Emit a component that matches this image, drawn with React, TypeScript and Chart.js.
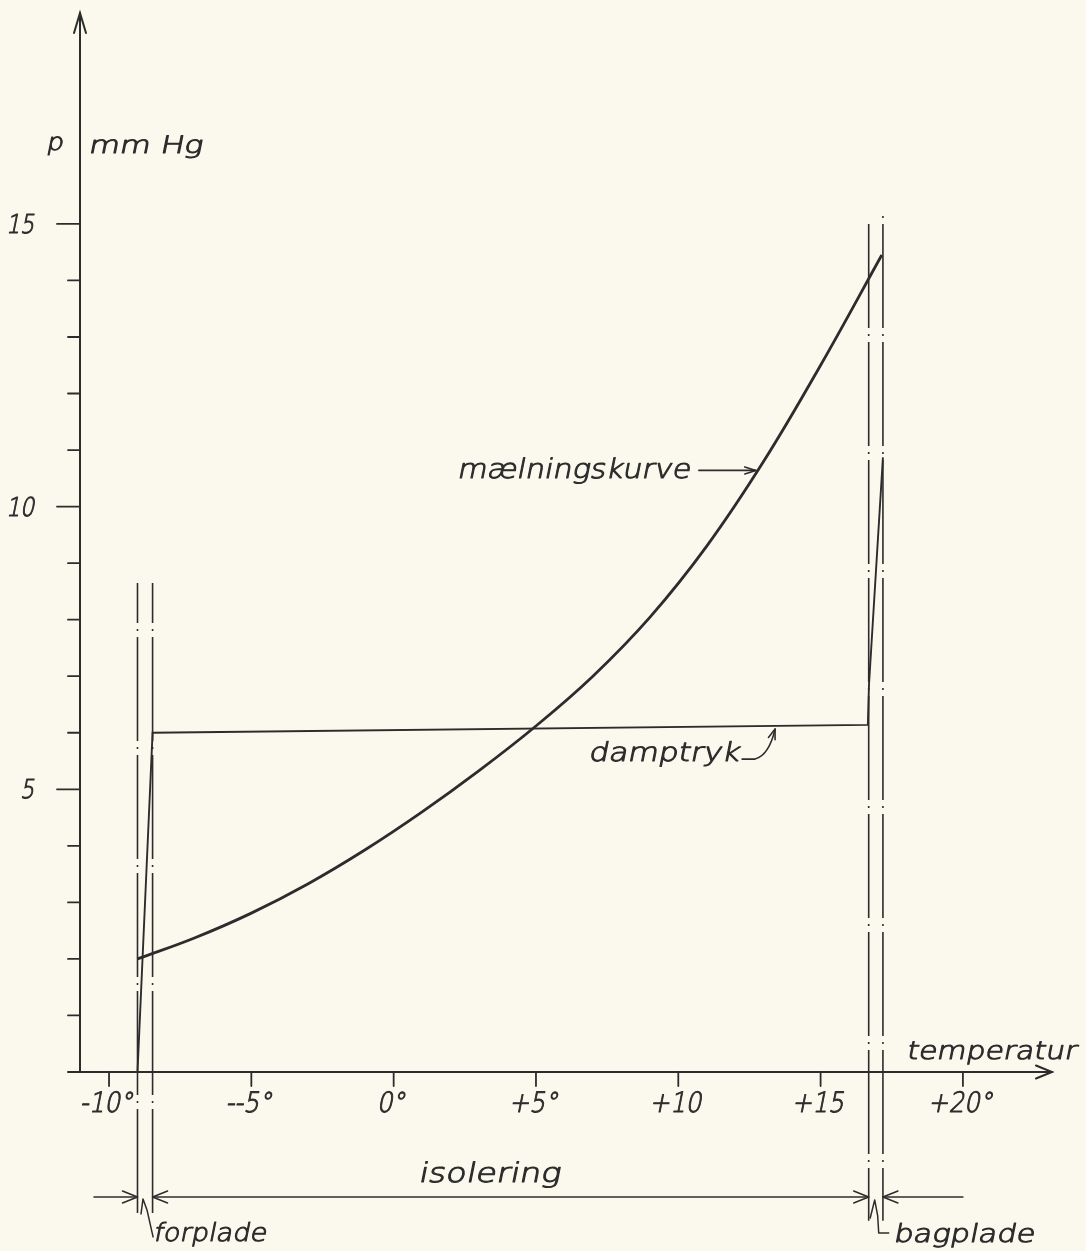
import { useEffect, useRef } from "react";
import { Chart, registerables } from "chart.js";

Chart.register(...registerables);

// ---- data ----
const xTickValues = [-10, -5, 0, 5, 10, 15, 20];
const xTickLabels = ["-10°", "--5°", "0°", "+5°", "+10", "+15", "+20°"];
const yMajorTicks = [5, 10, 15];
const yMajorLabels = ["5", "10", "15"];
const yMinorTicks = [1, 2, 3, 4, 6, 7, 8, 9, 11, 12, 13, 14];

// mælningskurve (saturation pressure, mm Hg) vs temperature (°C)
const curveTemps = [-9, -7, -5, -3, -1, 1, 3, 5, 7, 9, 11, 13, 15, 17.15];
const curvePressure = [2.0, 2.37, 2.81, 3.33, 3.93, 4.6, 5.33, 6.12, 7.0, 8.04, 9.3, 10.8, 12.5, 14.45];

// damptryk (vapour pressure) through the wall
const vaporTemps = [-9, -8.47, 16.66, 16.7, 17.19];
const vaporPressure = [0, 6.0, 6.14, 6.85, 10.87];

// plate boundaries (forplade / isolering / bagplade)
const plateBounds = [-9, -8.47, 16.69, 17.19];
const plateTop = [8.65, 8.65, 15.04, 15.2];
const plateBottom = [-2.55, -2.55, -2.63, -2.63];

const X_MIN = -11.02;
const X_MAX = 23.13;
const Y_MIN = 0;
const Y_MAX = 18.73;

const INK = "#2c2c2c";
const PAPER = "#fbf9ee";

function drawText(
  ctx: CanvasRenderingContext2D,
  text: string,
  x: number,
  y: number,
  size: number,
  align: "left" | "center" | "right",
  width?: number,
  sx = 1
) {
  ctx.save();
  ctx.font = `200 ${size}px 'DejaVu Sans', 'Liberation Sans', sans-serif`;
  const m = ctx.measureText(text).width;
  const s = width ? width / m : sx;
  const w = m * s;
  const x0 = align === "center" ? x - w / 2 : align === "right" ? x - w : x;
  ctx.translate(x0, y);
  ctx.transform(s, 0, -0.2, 1, 0, 0);
  ctx.fillStyle = INK;
  ctx.strokeStyle = INK;
  ctx.lineWidth = 1.0;
  ctx.lineJoin = "round";
  ctx.textAlign = "left";
  ctx.textBaseline = "alphabetic";
  ctx.fillText(text, 0, 0);
  ctx.strokeText(text, 0, 0);
  ctx.restore();
}

function arrowHead(ctx: CanvasRenderingContext2D, x: number, y: number, dx: number, dy: number, len = 15, half = 6) {
  const L = Math.hypot(dx, dy);
  const ux = dx / L, uy = dy / L;
  const bx = x - ux * len, by = y - uy * len;
  ctx.beginPath();
  ctx.moveTo(bx - uy * half, by + ux * half);
  ctx.lineTo(x, y);
  ctx.lineTo(bx + uy * half, by - ux * half);
  ctx.stroke();
}

const drawingPlugin = {
  id: "drawing",
  beforeDraw(chart: any) {
    const ctx = chart.ctx as CanvasRenderingContext2D;
    ctx.save();
    ctx.fillStyle = PAPER;
    ctx.fillRect(0, 0, chart.width, chart.height);
    ctx.restore();
  },
  beforeDatasetsDraw(chart: any) {
    const ctx = chart.ctx as CanvasRenderingContext2D;
    const xs = chart.scales.x;
    const ys = chart.scales.y;
    const area = chart.chartArea;
    const y0 = ys.getPixelForValue(0);
    ctx.save();
    ctx.strokeStyle = INK;
    ctx.lineCap = "round";

    // y axis
    ctx.lineWidth = 2;
    ctx.beginPath();
    ctx.moveTo(area.left, y0);
    ctx.lineTo(area.left, area.top);
    ctx.stroke();
    arrowHead(ctx, area.left, area.top, 0, -1, 20, 6);

    // x axis
    ctx.beginPath();
    ctx.moveTo(area.left - 12, y0);
    ctx.lineTo(area.right, y0);
    ctx.stroke();
    arrowHead(ctx, area.right, y0, 1, 0, 16, 6.5);

    // y ticks
    ctx.lineWidth = 1.8;
    yMinorTicks.forEach((v) => {
      const p = ys.getPixelForValue(v);
      ctx.beginPath();
      ctx.moveTo(area.left - 12, p);
      ctx.lineTo(area.left, p);
      ctx.stroke();
    });
    yMajorTicks.forEach((v) => {
      const p = ys.getPixelForValue(v);
      ctx.beginPath();
      ctx.moveTo(area.left - 23, p);
      ctx.lineTo(area.left, p);
      ctx.stroke();
    });
    // x ticks
    xTickValues.forEach((v) => {
      const p = xs.getPixelForValue(v);
      ctx.beginPath();
      ctx.moveTo(p, y0);
      ctx.lineTo(p, y0 + 14);
      ctx.stroke();
    });

    // plate boundary dash-dot lines
    ctx.lineCap = "butt";
    ctx.lineWidth = 1.6;
    const period = 118;
    const gapRef = [623, 623, 328, 328];
    plateBounds.forEach((b, i) => {
      const px = xs.getPixelForValue(b);
      const top = ys.getPixelForValue(plateTop[i]);
      const bot = ys.getPixelForValue(plateBottom[i]);
      ctx.setLineDash([104, 6, 2, 6]);
      ctx.lineDashOffset = (((top - gapRef[i] + 104) % period) + period) % period;
      ctx.beginPath();
      ctx.moveTo(px, top);
      ctx.lineTo(px, bot);
      ctx.stroke();
    });
    ctx.setLineDash([]);
    ctx.restore();
  },
  afterDraw(chart: any) {
    const ctx = chart.ctx as CanvasRenderingContext2D;
    const xs = chart.scales.x;
    const ys = chart.scales.y;
    const y0 = ys.getPixelForValue(0);
    ctx.save();
    ctx.strokeStyle = INK;
    ctx.lineWidth = 1.6;
    ctx.lineCap = "round";
    ctx.lineJoin = "round";

    // y tick labels
    yMajorTicks.forEach((v, i) => {
      const p = ys.getPixelForValue(v);
      drawText(ctx, yMajorLabels[i], 34, p + 9, 26, "right", undefined, 0.85);
    });
    // x tick labels
    xTickValues.forEach((v, i) => {
      const p = xs.getPixelForValue(v);
      drawText(ctx, xTickLabels[i], p - 3, y0 + 40, 28, "center", undefined, 0.88);
    });

    // axis titles
    drawText(ctx, "p", 46, 150, 24, "left", undefined, 1.1);
    drawText(ctx, "mm Hg", 88, 153, 24, "left", 114);
    drawText(ctx, "temperatur", 906, 1059, 25, "left", 170);

    // mælningskurve label + arrow
    const tx = xs.getPixelForValue(12.76);
    const ty = ys.getPixelForValue(10.64);
    ctx.beginPath();
    ctx.moveTo(tx - 58, ty);
    ctx.lineTo(tx - 1, ty);
    ctx.stroke();
    arrowHead(ctx, tx - 1, ty, 1, 0, 11, 3.5);
    drawText(ctx, "mælningskurve", tx - 67, ty + 8, 27, "right", 233);

    // damptryk label + hook arrow
    const dx = xs.getPixelForValue(13.4);
    const dy = ys.getPixelForValue(6.1) + 2;
    ctx.beginPath();
    ctx.moveTo(dx - 33, dy + 30);
    ctx.lineTo(dx - 20, dy + 30);
    ctx.quadraticCurveTo(dx - 6, dy + 26, dx, dy);
    ctx.stroke();
    arrowHead(ctx, dx, dy, 0.35, -1, 10, 3.5);
    drawText(ctx, "damptryk", dx - 36, dy + 32, 26, "right", 151);

    // dimension line
    const dimY = ys.getPixelForValue(-2.21);
    const xa = xs.getPixelForValue(plateBounds[0]);
    const xb = xs.getPixelForValue(plateBounds[1]);
    const xc = xs.getPixelForValue(plateBounds[2]);
    const xd = xs.getPixelForValue(plateBounds[3]);
    const xl = xs.getPixelForValue(-10.53);
    const xr = xs.getPixelForValue(20);
    ctx.lineWidth = 1.5;
    ctx.beginPath();
    ctx.moveTo(xl, dimY);
    ctx.lineTo(xa, dimY);
    ctx.moveTo(xb, dimY);
    ctx.lineTo(xc, dimY);
    ctx.moveTo(xd, dimY);
    ctx.lineTo(xr, dimY);
    ctx.stroke();
    arrowHead(ctx, xa, dimY, 1, 0, 15, 6);
    arrowHead(ctx, xb, dimY, -1, 0, 15, 6);
    arrowHead(ctx, xc, dimY, 1, 0, 15, 6);
    arrowHead(ctx, xd, dimY, -1, 0, 15, 6);
    drawText(ctx, "isolering", 418, 1182, 27, "left", 142);

    // forplade pointer
    ctx.beginPath();
    ctx.moveTo(xa + 3.5, dimY + 17);
    ctx.lineTo(xa + 5.5, dimY + 2);
    ctx.lineTo(xa + 9.5, dimY + 13);
    ctx.lineTo(xb + 0.5, dimY + 40);
    ctx.stroke();
    drawText(ctx, "forplade", 153, 1241, 25, "left", 113);

    // bagplade pointer
    ctx.beginPath();
    ctx.moveTo(xc + 1.5, dimY + 21);
    ctx.lineTo(xc + 6, dimY + 3);
    ctx.lineTo(xc + 9, dimY + 19);
    ctx.lineTo(xc + 10, dimY + 36);
    ctx.lineTo(xc + 20, dimY + 36);
    ctx.stroke();
    drawText(ctx, "bagplade", 893, 1242, 25, "left", 141);

    ctx.restore();
  },
};

export default function App() {
  const ref = useRef<HTMLCanvasElement | null>(null);
  useEffect(() => {
    document.body.style.margin = "0";
    document.body.style.background = PAPER;
    const canvas = ref.current;
    if (!canvas) return;
    const chart = new Chart(canvas, {
      type: "scatter",
      data: {
        datasets: [
          {
            label: "mælningskurve",
            data: curveTemps.map((t, i) => ({ x: t, y: curvePressure[i] })),
            showLine: true,
            borderColor: INK,
            borderWidth: 2.8,
            pointRadius: 0,
            tension: 0.4,
            fill: false,
          },
          {
            label: "damptryk",
            data: vaporTemps.map((t, i) => ({ x: t, y: vaporPressure[i] })),
            showLine: true,
            borderColor: INK,
            borderWidth: 1.9,
            pointRadius: 0,
            tension: 0,
            fill: false,
          },
        ],
      },
      options: {
        responsive: false,
        animation: false,
        devicePixelRatio: 1,
        layout: { padding: { left: 80, right: 34, top: 13, bottom: 179 } },
        scales: {
          x: { type: "linear", min: X_MIN, max: X_MAX, display: false },
          y: { type: "linear", min: Y_MIN, max: Y_MAX, display: false },
        },
        plugins: { legend: { display: false }, tooltip: { enabled: false } },
        events: [],
      } as any,
      plugins: [drawingPlugin],
    });
    return () => chart.destroy();
  }, []);
  return (
    <div style={{ position: "absolute", left: 0, top: 0, width: 1086, height: 1251, background: PAPER }}>
      <canvas ref={ref} width={1086} height={1251} style={{ display: "block" }} />
    </div>
  );
}
